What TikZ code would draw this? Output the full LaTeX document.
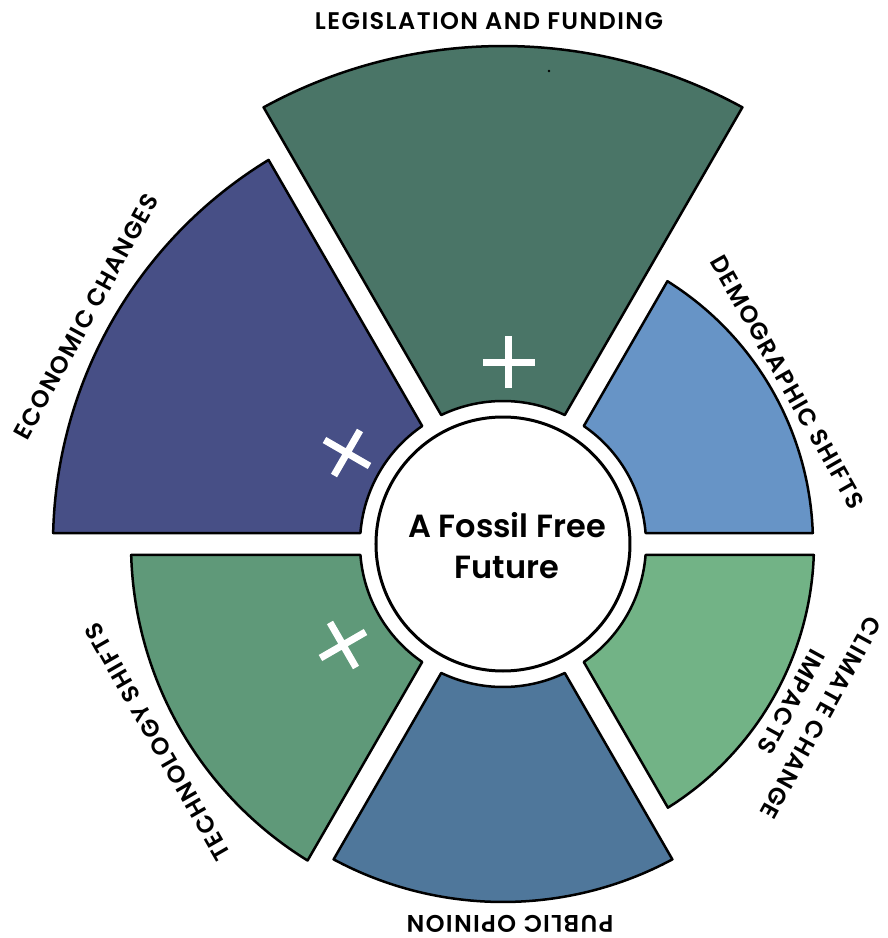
\documentclass[tikz,border=0pt]{standalone}
\usepackage{fontspec}
\setmainfont{Poppins}
\newfontfamily\labelfont{Poppins}[UprightFont={* SemiBold}, LetterSpace=6]
\newfontfamily\centerfont{Poppins}[UprightFont={* SemiBold}]
\definecolor{legcol}{HTML}{4A7567}
\definecolor{ecocol}{HTML}{474F86}
\definecolor{demcol}{HTML}{6794C6}
\definecolor{clicol}{HTML}{72B386}
\definecolor{pubcol}{HTML}{4F779B}
\definecolor{teccol}{HTML}{5F9979}
\tikzset{
  sector/.style={draw=black, line width=2.5pt, line join=round},
  plusmark/.style={draw=white, line width=7pt},
  lbl/.style={font=\labelfont\fontsize{24}{24}\selectfont, inner sep=0pt, anchor=base},
  ctext/.style={font=\centerfont\fontsize{32}{32}\selectfont, inner sep=0pt, anchor=base},
}
% start angle, outer radius, colour
\newcommand\fsector[3]{%
  \pgfmathsetmacro\dO{asin(11/#2)}%
  \pgfmathsetmacro\dI{asin(11/143)}%
  \pgfmathsetmacro\aOs{#1+\dO}%
  \pgfmathsetmacro\aOe{#1+60-\dO}%
  \pgfmathsetmacro\aIs{#1+60-\dI}%
  \pgfmathsetmacro\aIe{#1+\dI}%
  \draw[sector, fill=#3] (\aOs:#2) arc[start angle=\aOs, end angle=\aOe, radius=#2]
     -- (\aIs:143) arc[start angle=\aIs, end angle=\aIe, radius=143] -- cycle;
}
\newcommand\pluscross[2]{%
  \begin{scope}[shift={#1}, rotate=#2]
    \draw[plusmark] (-26,0) -- (26,0) (0,-26) -- (0,26);
  \end{scope}}
\begin{document}
\begin{tikzpicture}[x=1pt,y=1pt]
\useasboundingbox (-503,-394) rectangle (385,544);
\fsector{0}{310}{demcol}
\fsector{60}{498}{legcol}
\fsector{120}{450}{ecocol}
\fsector{180}{372}{teccol}
\fsector{240}{358}{pubcol}
\fsector{300}{311}{clicol}
\fill[black] (46,473) circle (1.3);
\pluscross{(6,182)}{0}
\pluscross{(-156,91)}{60}
\pluscross{(-160,-101)}{30}
\node[draw=black, circle, line width=3pt, minimum size=254pt, inner sep=0pt, fill=white] (core) at (0,0) {};
\node[ctext] (t1) at (4,7) {A Fossil Free};
\node[ctext] (t2) at (4,-34) {Future};
\node[lbl] (leg) at (-14,514) {LEGISLATION AND FUNDING};
\node[lbl, rotate=61.4] (eco) at (151.4:466.5) {ECONOMIC CHANGES};
\node[lbl, rotate=-60.4] (dem) at (29.6:319) {DEMOGRAPHIC SHIFTS};
\node[lbl, rotate=-118.7] (cli1) at (-28.7:354) {CLIMATE CHANGE};
\node[lbl, rotate=-118.7] (cli2) at (-28.7:320.5) {IMPACTS};
\node[lbl, rotate=180] (pub) at (7,-371.5) {PUBLIC OPINION};
\node[lbl, rotate=119.8] (tec) at (209.8:389.5) {TECHNOLOGY SHIFTS};
\end{tikzpicture}
\end{document}
